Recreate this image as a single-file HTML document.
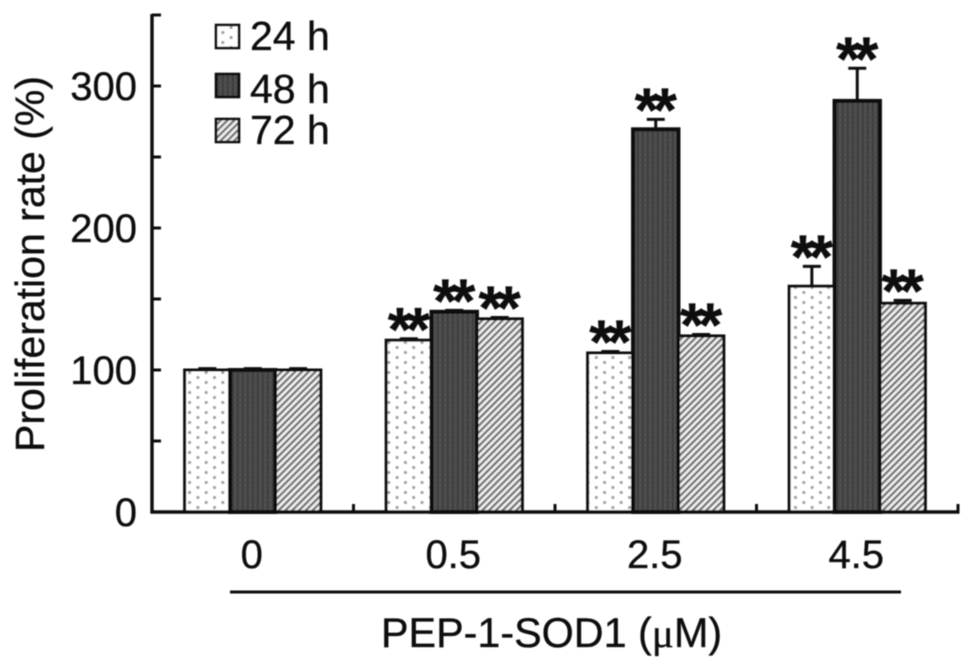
<!DOCTYPE html>
<html lang="en">
<head>
<meta charset="utf-8">
<title>Proliferation rate chart</title>
<style>
html,body{margin:0;padding:0;background:#fff;}
svg{display:block;}
text{font-family:"Liberation Sans",sans-serif;fill:#111;stroke:#111;stroke-width:0.35px;}
</style>
</head>
<body>
<svg id="chart" xmlns="http://www.w3.org/2000/svg" width="972" height="668" viewBox="0 0 972 668">
<defs>
<pattern id="dots" patternUnits="userSpaceOnUse" width="16.6" height="10" x="3" y="0">
<rect width="16.6" height="10" fill="#fff"/>
<circle cx="4" cy="2.5" r="1.6" fill="#a0a0a0"/>
<circle cx="12.3" cy="7.5" r="1.6" fill="#a0a0a0"/>
</pattern>
<pattern id="dark" patternUnits="userSpaceOnUse" width="5" height="5">
<rect width="5" height="5" fill="#4f4f4f"/>
<rect x="2" width="1.5" height="5" fill="#383838"/>
<rect y="2" width="5" height="1" fill="#444"/>
</pattern>
<pattern id="hatch" patternUnits="userSpaceOnUse" width="4.8" height="4.8" patternTransform="rotate(45)">
<rect width="4.8" height="4.8" fill="#efefef"/>
<rect width="2.2" height="4.8" fill="#707070"/>
</pattern>
<filter id="soft" x="-2%" y="-2%" width="104%" height="104%"><feGaussianBlur stdDeviation="0.55"/></filter>
</defs>
<g id="root" filter="url(#soft)"></g>
</svg>
<script>
const categories = ["0", "0.5", "2.5", "4.5"];
const seriesNames = ["24 h", "48 h", "72 h"];
const values24h = [100, 121, 112, 159];
const values48h = [100, 141, 269.5, 289.5];
const values72h = [100, 136, 124, 147];
const errors24h = [1, 1, 1, 14];
const errors48h = [1, 1, 7, 23];
const errors72h = [1, 1, 1, 2];
const significant24h = [false, true, true, true];
const significant48h = [false, true, true, true];
const significant72h = [false, true, true, true];
const majorTicks = [0, 100, 200, 300];
const minorTicks = [50, 150, 250, 350];

const NS = "http://www.w3.org/2000/svg";
const root = document.getElementById("root");
const seriesValues = [values24h, values48h, values72h];
const seriesErrors = [errors24h, errors48h, errors72h];
const seriesSig = [significant24h, significant48h, significant72h];
const fills = ["url(#dots)", "url(#dark)", "url(#hatch)"];
const keys = ["24h", "48h", "72h"];
const INK = "#111";

const axisLeft = 152, axisRight = 958, axisBottom = 512, pxPerUnit = 1.42;
const yScale = v => axisBottom - v * pxPerUnit;
const groupWidth = (axisRight - axisLeft) / categories.length;
const xCenter = i => axisLeft + groupWidth * (i + 0.5);
const barWidth = 45.4;
const barX = (i, s) => xCenter(i) + (s - 1.5) * barWidth;

function make(tag, attrs, text) {
  const el = document.createElementNS(NS, tag);
  for (const k in attrs) el.setAttribute(k, attrs[k]);
  if (text !== undefined) el.textContent = text;
  root.appendChild(el);
  return el;
}
function line(x1, y1, x2, y2, w) {
  return make("line", {x1, y1, x2, y2, stroke: INK, "stroke-width": w});
}

seriesValues.forEach((vals, s) => {
  vals.forEach((v, i) => {
    const top = yScale(v);
    const cx = barX(i, s) + barWidth / 2;
    const capY = yScale(v + seriesErrors[s][i]);

    const stem = line(cx, top, cx, capY, 3);
    
    
    const cap = line(cx - 9, capY, cx + 9, capY, 3);
    
    

    const bar = make("rect", {
      x: barX(i, s), y: top, width: barWidth, height: axisBottom - top,
      fill: fills[s], stroke: INK, "stroke-width": s === 1 ? 4 : 3
    });
    
    

    if (seriesSig[s][i]) {
      const star = make("text", {
        x: cx - 3, y: capY + 12, "text-anchor": "middle",
        "font-size": 62, "font-weight": "bold", "letter-spacing": "-6px"
      }, "**");
      
      
    }
  });
});

const yAxis = line(axisLeft, yScale(350) - 1, axisLeft, axisBottom + 1.5, 3.4);


const xAxis = line(axisLeft - 1.5, axisBottom, axisRight + 1.5, axisBottom, 3.4);



majorTicks.concat(minorTicks).forEach(t => {
  const tick = line(axisLeft, yScale(t), axisLeft + 9, yScale(t), 3);
  
  
});
majorTicks.forEach(t => {
  const lab = make("text", {x: 137, y: yScale(t) + 14, "text-anchor": "end", "font-size": 40}, String(t));
  
  
});
for (let i = 0; i <= categories.length; i++) {
  const px = axisLeft + groupWidth * i;
  const tick = line(px, axisBottom, px, axisBottom - 8, 3);
  
  
}
categories.forEach((c, i) => {
  const lab = make("text", {x: xCenter(i) - 1, y: 568, "text-anchor": "middle", "font-size": 40}, c);
  
  
});

const bracket = line(230, 592, 901, 592, 3);



const xTitle = make("text", {x: 381, y: 647, "font-size": 41.3});


xTitle.appendChild(document.createTextNode("PEP-1-SOD1 ("));
const mu = document.createElementNS(NS, "tspan");
mu.setAttribute("style", 'font-family:"Liberation Serif",serif');
mu.textContent = "\u03BC";
xTitle.appendChild(mu);
xTitle.appendChild(document.createTextNode("M)"));

const yTitle = make("text", {
  transform: "translate(44,452) rotate(-90)", "font-size": 41
}, "Proliferation rate (%)");



const legendRowTops = [25, 74, 119];
const legendBaselines = [50, 103, 144];
seriesNames.forEach((name, s) => {
  const swatch = make("rect", {
    x: 216, y: legendRowTops[s], width: 23, height: 23,
    fill: fills[s], stroke: INK, "stroke-width": 2.6
  });
  
  
  const label = make("text", {x: 250, y: legendBaselines[s], "font-size": 41}, name);
  
  
});
</script>
</body>
</html>
